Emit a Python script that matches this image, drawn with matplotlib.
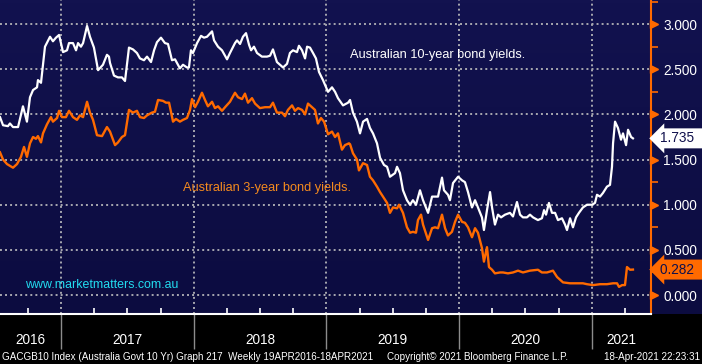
import matplotlib
matplotlib.use("Agg")
import matplotlib.pyplot as plt
import matplotlib.transforms as mtransforms
from matplotlib.colors import LinearSegmentedColormap
import numpy as np

plt.rcParams['font.family'] = ['Liberation Sans', 'DejaVu Sans']

# Australian 10-year govt bond yield (decimal year, %)
t10 = [2016.540, 2016.563, 2016.600, 2016.615, 2016.638, 2016.676, 2016.713, 2016.743, 2016.766, 2016.789,
       2016.819, 2016.826, 2016.849, 2016.864, 2016.879, 2016.917, 2016.939, 2016.962, 2016.985, 2017.015,
       2017.045, 2017.060, 2017.090, 2017.113, 2017.128, 2017.150, 2017.166, 2017.196, 2017.218, 2017.248,
       2017.279, 2017.316, 2017.346, 2017.361, 2017.369, 2017.399, 2017.429, 2017.459, 2017.482, 2017.512,
       2017.542, 2017.572, 2017.595, 2017.625, 2017.648, 2017.678, 2017.701, 2017.723, 2017.753, 2017.783,
       2017.806, 2017.836, 2017.859, 2017.874, 2017.896, 2017.919, 2017.949, 2017.964, 2017.979, 2017.994,
       2018.025, 2018.055, 2018.077, 2018.100, 2018.138, 2018.153, 2018.183, 2018.213, 2018.251, 2018.273,
       2018.311, 2018.326, 2018.349, 2018.371, 2018.394, 2018.417, 2018.432, 2018.454, 2018.477, 2018.514,
       2018.552, 2018.575, 2018.597, 2018.627, 2018.650, 2018.673, 2018.703, 2018.725, 2018.748, 2018.778,
       2018.793, 2018.816, 2018.839, 2018.854, 2018.876, 2018.899, 2018.921, 2018.944, 2018.974, 2019.012,
       2019.042, 2019.065, 2019.087, 2019.125, 2019.163, 2019.178, 2019.200, 2019.230, 2019.253, 2019.276,
       2019.306, 2019.328, 2019.351, 2019.381, 2019.404, 2019.434, 2019.457, 2019.479, 2019.517, 2019.532,
       2019.554, 2019.577, 2019.607, 2019.630, 2019.652, 2019.675, 2019.705, 2019.728, 2019.766, 2019.796,
       2019.818, 2019.841, 2019.871, 2019.886, 2019.916, 2019.931, 2019.954, 2019.992, 2020.022, 2020.044,
       2020.067, 2020.097, 2020.120, 2020.142, 2020.172, 2020.187, 2020.210, 2020.233, 2020.248, 2020.270,
       2020.293, 2020.316, 2020.346, 2020.383, 2020.406, 2020.436, 2020.459, 2020.481, 2020.511, 2020.534,
       2020.557, 2020.594, 2020.624, 2020.640, 2020.655, 2020.677, 2020.700, 2020.723, 2020.745, 2020.775,
       2020.798, 2020.813, 2020.836, 2020.858, 2020.881, 2020.903, 2020.933, 2020.964, 2021.002, 2021.024,
       2021.039, 2021.062, 2021.084, 2021.114, 2021.137, 2021.152, 2021.160, 2021.175, 2021.197, 2021.220,
       2021.235, 2021.258, 2021.273, 2021.296, 2021.310]
y10 = [1.97, 1.88, 1.87, 1.90, 1.86, 1.86, 2.09, 1.92, 2.19, 2.27,
       2.30, 2.38, 2.35, 2.55, 2.75, 2.86, 2.81, 2.85, 2.88, 2.69,
       2.71, 2.79, 2.79, 2.71, 2.79, 2.75, 2.79, 2.98, 2.86, 2.74,
       2.49, 2.55, 2.66, 2.64, 2.57, 2.43, 2.41, 2.41, 2.37, 2.74,
       2.72, 2.68, 2.62, 2.60, 2.64, 2.58, 2.71, 2.80, 2.85, 2.79,
       2.78, 2.60, 2.61, 2.57, 2.51, 2.55, 2.52, 2.52, 2.71, 2.68,
       2.79, 2.87, 2.85, 2.86, 2.92, 2.82, 2.75, 2.71, 2.61, 2.68,
       2.79, 2.82, 2.78, 2.86, 2.90, 2.77, 2.71, 2.75, 2.68, 2.64,
       2.64, 2.65, 2.72, 2.58, 2.55, 2.52, 2.56, 2.68, 2.71, 2.69,
       2.76, 2.71, 2.62, 2.75, 2.74, 2.68, 2.62, 2.47, 2.38, 2.25,
       2.30, 2.25, 2.18, 2.10, 2.13, 2.16, 2.02, 1.92, 1.79, 1.92,
       1.95, 1.85, 1.79, 1.68, 1.52, 1.44, 1.42, 1.31, 1.35, 1.42,
       1.35, 1.16, 1.05, 1.00, 1.05, 1.00, 1.16, 1.05, 0.91, 1.09,
       1.09, 1.09, 1.30, 1.16, 1.11, 1.05, 1.24, 1.31, 1.27, 1.25,
       1.14, 0.97, 1.05, 0.97, 0.86, 0.72, 0.94, 1.14, 0.97, 0.78,
       0.89, 0.86, 0.89, 0.91, 0.87, 1.03, 0.89, 0.86, 0.86, 0.89,
       0.86, 0.83, 0.85, 0.94, 0.89, 1.02, 0.91, 0.91, 0.83, 0.85,
       0.78, 0.72, 0.85, 0.75, 0.86, 0.91, 0.97, 1.00, 1.00, 1.02,
       1.11, 1.09, 1.13, 1.20, 1.22, 1.42, 1.68, 1.92, 1.85, 1.72,
       1.79, 1.66, 1.83, 1.75, 1.735]

# Australian 3-year govt bond yield (decimal year, %)
t3 = [2016.540, 2016.563, 2016.593, 2016.638, 2016.668, 2016.698, 2016.721, 2016.743, 2016.766, 2016.789,
      2016.811, 2016.826, 2016.849, 2016.864, 2016.894, 2016.924, 2016.939, 2016.970, 2016.985, 2017.007,
      2017.037, 2017.060, 2017.090, 2017.120, 2017.143, 2017.166, 2017.196, 2017.218, 2017.241, 2017.271,
      2017.309, 2017.346, 2017.369, 2017.407, 2017.429, 2017.459, 2017.482, 2017.512, 2017.542, 2017.572,
      2017.595, 2017.625, 2017.648, 2017.685, 2017.708, 2017.731, 2017.768, 2017.791, 2017.814, 2017.844,
      2017.866, 2017.896, 2017.919, 2017.949, 2017.972, 2017.987, 2018.010, 2018.032, 2018.062, 2018.085,
      2018.107, 2018.138, 2018.160, 2018.183, 2018.213, 2018.236, 2018.273, 2018.311, 2018.334, 2018.364,
      2018.386, 2018.409, 2018.439, 2018.462, 2018.499, 2018.537, 2018.575, 2018.597, 2018.627, 2018.665,
      2018.688, 2018.710, 2018.741, 2018.763, 2018.786, 2018.816, 2018.839, 2018.861, 2018.891, 2018.914,
      2018.936, 2018.959, 2018.982, 2019.012, 2019.042, 2019.065, 2019.087, 2019.117, 2019.140, 2019.170,
      2019.178, 2019.200, 2019.230, 2019.245, 2019.276, 2019.306, 2019.328, 2019.351, 2019.381, 2019.404,
      2019.426, 2019.457, 2019.479, 2019.502, 2019.532, 2019.547, 2019.577, 2019.607, 2019.630, 2019.652,
      2019.675, 2019.690, 2019.713, 2019.728, 2019.766, 2019.796, 2019.818, 2019.841, 2019.871, 2019.894,
      2019.916, 2019.946, 2019.969, 2019.992, 2020.022, 2020.044, 2020.067, 2020.097, 2020.120, 2020.142,
      2020.172, 2020.187, 2020.210, 2020.225, 2020.248, 2020.270, 2020.308, 2020.331, 2020.368, 2020.406,
      2020.444, 2020.481, 2020.534, 2020.594, 2020.624, 2020.662, 2020.707, 2020.738, 2020.760, 2020.783,
      2020.836, 2020.888, 2020.933, 2020.964, 2021.009, 2021.062, 2021.114, 2021.160, 2021.190, 2021.205,
      2021.228, 2021.250, 2021.265, 2021.288, 2021.310]
y3 = [1.58, 1.50, 1.45, 1.41, 1.45, 1.53, 1.64, 1.53, 1.68, 1.75,
      1.73, 1.76, 1.69, 1.79, 1.89, 1.97, 1.92, 1.96, 2.04, 1.97,
      1.97, 2.04, 1.97, 1.94, 1.99, 1.97, 2.14, 2.02, 1.94, 1.77,
      1.76, 1.86, 1.81, 1.66, 1.69, 1.75, 1.77, 2.05, 2.02, 2.04,
      1.97, 1.96, 1.99, 2.02, 2.03, 2.16, 2.15, 2.13, 2.13, 1.92,
      1.95, 1.92, 1.94, 1.96, 2.05, 2.17, 2.08, 2.14, 2.24, 2.16,
      2.09, 2.14, 2.07, 2.09, 2.04, 2.08, 2.14, 2.24, 2.19, 2.17,
      2.23, 2.13, 2.18, 2.12, 2.07, 2.08, 2.08, 2.13, 2.02, 2.02,
      1.98, 2.05, 2.10, 2.04, 2.07, 2.05, 2.00, 2.12, 2.08, 2.05,
      1.90, 1.96, 1.92, 1.78, 1.81, 1.75, 1.79, 1.61, 1.66, 1.68,
      1.67, 1.57, 1.50, 1.38, 1.46, 1.44, 1.31, 1.27, 1.20, 1.14,
      1.09, 1.02, 0.91, 0.97, 0.96, 1.00, 0.91, 0.75, 0.69, 0.70,
      0.69, 0.83, 0.89, 0.78, 0.61, 0.74, 0.75, 0.74, 0.89, 0.74,
      0.66, 0.70, 0.81, 0.89, 0.81, 0.80, 0.75, 0.64, 0.74, 0.69,
      0.52, 0.37, 0.53, 0.31, 0.28, 0.24, 0.25, 0.25, 0.24, 0.25,
      0.27, 0.25, 0.27, 0.28, 0.25, 0.25, 0.27, 0.20, 0.17, 0.14,
      0.13, 0.13, 0.13, 0.12, 0.11, 0.12, 0.12, 0.13, 0.13, 0.09,
      0.11, 0.11, 0.31, 0.28, 0.282]

yticks = [0.0, 0.5, 1.0, 1.5, 2.0, 2.5, 3.0]
years = [2016, 2017, 2018, 2019, 2020, 2021]

W, H = 702, 364
ORANGE = '#ff6a00'

fig = plt.figure(figsize=(W / 100, H / 100), dpi=100, facecolor='black')

# navy background behind plot and right scale
bg = fig.add_axes([0, 50 / H, 1, 314 / H])
grad = np.linspace(0, 1, 100).reshape(-1, 1)
cmap = LinearSegmentedColormap.from_list('bb', ['#12124f', '#0c0c40'])
bg.imshow(grad, aspect='auto', cmap=cmap, extent=[0, 1, 0, 1])
bg.set_axis_off()

ax = fig.add_axes([0, 50 / H, 651 / W, 314 / H])
ax.set_facecolor('none')
ax.set_xlim(2016.54, 2021.446)
ax.set_ylim(-0.21, 3.267)

# dotted grid
for v in yticks:
    ax.axhline(v, color='#a8a8b0', lw=1.4, ls=(0, (1, 1.6)), zorder=1)
for yr in years[1:]:
    ax.axvline(yr, color='#a8a8b0', lw=1.4, ls=(0, (1, 1.6)), zorder=1)

ax.plot(t3, y3, color=ORANGE, lw=1.7, zorder=3)
ax.plot(t10, y10, color='white', lw=1.6, zorder=4)

for s in ['top', 'left']:
    ax.spines[s].set_visible(False)
ax.spines['right'].set_color(ORANGE)
ax.spines['right'].set_linewidth(1.5)
ax.spines['bottom'].set_color('white')
ax.spines['bottom'].set_linewidth(1.5)

# right scale
ax.yaxis.tick_right()
ax.set_yticks(yticks)
ax.set_yticklabels(['%.3f' % v for v in yticks], color='white', fontsize=9.8)
ax.set_yticks(np.arange(0.25, 3.26, 0.5), minor=True)
ax.tick_params(axis='y', which='major', length=0, pad=9)
ax.tick_params(axis='y', which='minor', length=5, width=1.2, color=ORANGE, direction='out')
trans_r = mtransforms.blended_transform_factory(ax.transAxes, ax.transData)
ax.plot([1.004] * len(yticks), yticks, marker='>', ms=5.5, color=ORANGE, ls='none',
        transform=trans_r, clip_on=False, zorder=5)

# bottom axis: quarter ticks and year separators
ax.set_xticks(years[1:])
ax.set_xticklabels([])
ax.tick_params(axis='x', which='major', length=25, width=1.0, color='#8c8c8c', direction='out')
qt = [y + q for y in years for q in (0.25, 0.5, 0.75)]
ax.set_xticks([q for q in qt if 2016.54 < q < 2021.446], minor=True)
ax.tick_params(axis='x', which='minor', length=4, width=1.2, color='white', direction='in')

trans_b = mtransforms.blended_transform_factory(ax.transData, ax.transAxes)
x0, x1 = ax.get_xlim()
for yr in years:
    mid = (max(yr, x0) + min(yr + 1, x1)) / 2
    ax.text(mid, -26 / 314, str(yr), transform=trans_b, color='white', fontsize=9.8,
            ha='center', va='center')

# last value tags
ax.text(1.014, 1.735, '1.735  ', transform=trans_r, fontsize=9.8, color='#10104c',
        va='center', ha='left', clip_on=False, zorder=6,
        bbox=dict(boxstyle='larrow,pad=0.22', fc='white', ec='none'))
ax.text(1.014, 0.282, '0.282  ', transform=trans_r, fontsize=9.8, color='#10104c',
        va='center', ha='left', clip_on=False, zorder=6,
        bbox=dict(boxstyle='larrow,pad=0.22', fc=ORANGE, ec='none'))

# annotations
ax.text(2019.18, 2.66, 'Australian 10-year bond yields.', color='white', fontsize=9.2,
        ha='left', va='center')
ax.text(2017.92, 1.19, 'Australian 3-year bond yields.', color='#f48a1e', fontsize=9.2,
        ha='left', va='center')
ax.text(2016.73, 0.11, 'www.marketmatters.com.au', color='#22dcf0', fontsize=8.9,
        ha='left', va='center')

# footer
fy = 1 - 357 / H
fig.text(2 / W, fy, 'GACGB10 Index (Australia Govt 10 Yr) Graph 217  Weekly 19APR2016-18APR2021',
         color='white', fontsize=7.1, ha='left', va='center')
fig.text(478 / W, fy, 'Copyright\u00a9 2021 Bloomberg Finance L.P.', color='white', fontsize=7.1,
         ha='center', va='center')
fig.text(700 / W, fy, '18-Apr-2021 22:23:31', color='white', fontsize=7.1,
         ha='right', va='center')

fig.savefig('out.png', dpi=100, facecolor='black')
